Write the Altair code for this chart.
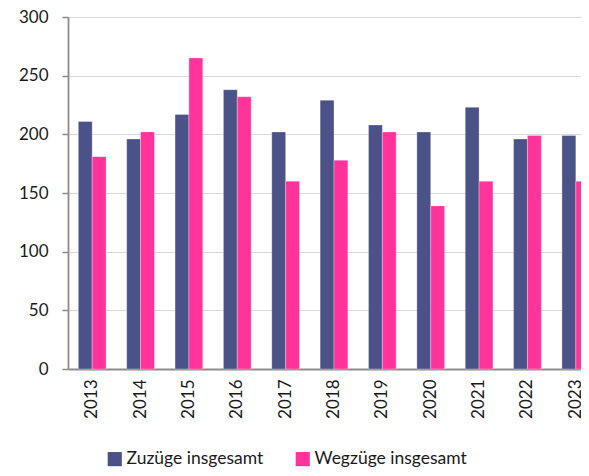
import altair as alt
import pandas as pd

years = ["2013", "2014", "2015", "2016", "2017", "2018", "2019", "2020", "2021", "2022", "2023"]
zuzuege = [211, 196, 217, 238, 202, 229, 208, 202, 223, 196, 199]
wegzuege = [181, 202, 265, 232, 160, 178, 202, 139, 160, 199, 160]
series = ["Zuzüge insgesamt", "Wegzüge insgesamt"]
colors = ["#4a5288", "#ff3399"]
y_ticks = [0, 50, 100, 150, 200, 250, 300]

rows = []
for i, yr in enumerate(years):
    rows.append({"Jahr": yr, "Serie": series[0], "Wert": zuzuege[i]})
    rows.append({"Jahr": yr, "Serie": series[1], "Wert": wegzuege[i]})
df = pd.DataFrame(rows)

FONT = "Lato"

chart = alt.Chart(df).mark_bar(stroke="#ffffff", strokeWidth=0.6, strokeOpacity=0.5).encode(
    x=alt.X("Jahr:O", sort=years, title=None,
            scale=alt.Scale(range=[0, 532], paddingInner=0.427, paddingOuter=0.2135),
            axis=alt.Axis(labelAngle=-90, labelPadding=10, ticks=False,
                          domainColor="#8c8c8c", domainWidth=2,
                          labelFontSize=17, labelColor="#1a1a1a", labelFont=FONT,
                          labelBaseline="middle", labelAlign="right")),
    xOffset=alt.XOffset("Serie:N", sort=series,
                        scale=alt.Scale(domain=series, paddingInner=0, paddingOuter=0)),
    y=alt.Y("Wert:Q", title=None,
            scale=alt.Scale(domain=[0, 300], nice=False),
            axis=alt.Axis(values=y_ticks, tickSize=6, tickColor="#8c8c8c", tickWidth=1.5,
                          labelPadding=14, labelFontSize=17, labelColor="#1a1a1a", labelFont=FONT,
                          domainColor="#8c8c8c", domainWidth=1.8,
                          grid=True, gridColor="#d9d9d9", gridWidth=1.2)),
    color=alt.Color("Serie:N", sort=series,
                    scale=alt.Scale(domain=series, range=colors),
                    legend=alt.Legend(title=None, orient="none", direction="horizontal",
                                      legendX=38, legendY=433,
                                      symbolType="square", symbolSize=200,
                                      symbolStrokeWidth=0,
                                      labelFontSize=17.5, labelFont=FONT, labelColor="#1a1a1a",
                                      columnPadding=30, labelOffset=3)),
).properties(
    width=513,
    height=352,
    autosize=alt.AutoSizeParams(type="none"),
    padding={"left": 60, "top": 9, "right": 0, "bottom": 99},
).configure_view(stroke=None)

chart.save("out.html", embed_options={"renderer": "svg", "actions": False})
